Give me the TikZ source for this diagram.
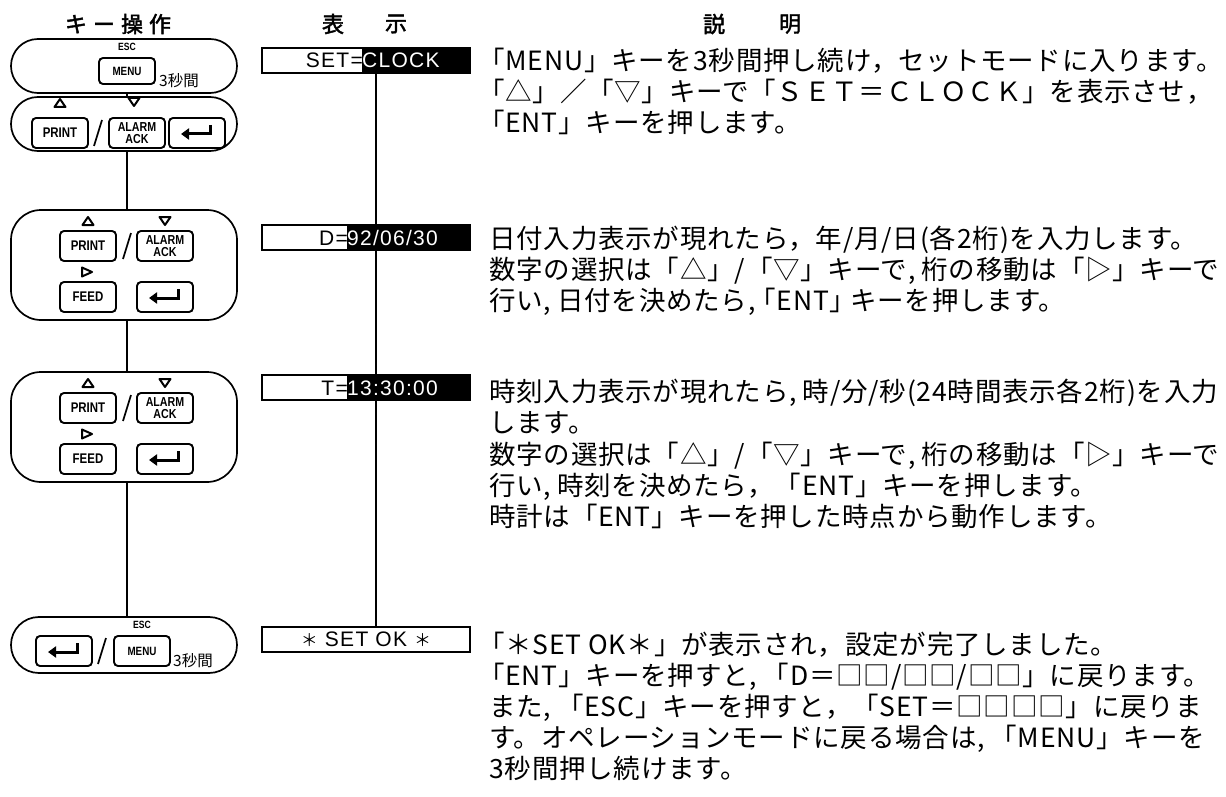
\documentclass[tikz,border=0pt]{standalone}
\usepackage{fontspec}
\setmainfont{Liberation Sans}
\newfontfamily\jp[LetterSpace=3]{Noto Sans CJK JP}
\newfontfamily\jps{Noto Sans CJK JP}
\newfontfamily\jpb[FakeBold=2]{Noto Sans CJK JP}
\newfontfamily\dispf[LetterSpace=6]{Liberation Sans}
\newfontfamily\keyf[FakeStretch=0.82]{Liberation Sans}
\usetikzlibrary{arrows.meta,calc}
\newcommand\tup[2]{\draw[tri] (#1-5.5,#2+4) -- (#1+5.5,#2+4) -- (#1,#2-4) -- cycle;}
\newcommand\tdn[2]{\draw[tri] (#1-5.5,#2-4) -- (#1+5.5,#2-4) -- (#1,#2+4) -- cycle;}
\newcommand\trt[2]{\draw[tri] (#1-4,#2-4.5) -- (#1-4,#2+4.5) -- (#1+6,#2) -- cycle;}
\newcommand\slsh[2]{\draw[slash] (#1-4,#2+13) -- (#1+4,#2-13);}
\newcommand\entarrow[1]{\draw[ent] ([xshift=13pt,yshift=8pt]#1.center) |- ([xshift=-16pt,yshift=-1pt]#1.center);}
\newcommand\hc{,\hspace{6pt}}
\tikzset{
 oval/.style={draw, line width=1.7pt, minimum width=226pt, inner sep=0pt},
 key/.style={draw, line width=1.9pt, rounded corners=4pt, minimum width=56pt, minimum height=30pt, inner sep=0pt, align=center, font=\keyf\bfseries\fontsize{14}{12}\selectfont},
 conn/.style={line width=1.5pt},
 disp/.style={draw, line width=1.3pt, minimum width=208pt, minimum height=25pt, inner sep=0pt, fill=white},
 dtext/.style={inner sep=0pt, font=\dispf\fontsize{21}{21}\selectfont},
 jtext/.style={inner sep=0pt, anchor=base west, font=\jp\fontsize{26.5}{26.5}\selectfont},
 head/.style={inner sep=0pt, font=\jpb\fontsize{22}{22}\selectfont},
 tri/.style={line width=2pt, line join=round},
 slash/.style={line width=1.7pt},
 ent/.style={line width=3pt, -{Triangle[length=8pt,width=11pt]}},
 small/.style={inner sep=0pt, font=\keyf\bfseries\fontsize{10.5}{10.5}\selectfont},
 secs/.style={inner sep=0pt, anchor=base west, font=\jps\fontsize{15.5}{15.5}\selectfont},
 twoline/.style={font=\keyf\bfseries\fontsize{13}{11.5}\selectfont},
 menukey/.style={font=\keyf\bfseries\fontsize{12}{12}\selectfont},
}
\begin{document}
\begin{tikzpicture}[x=1pt,y=-1pt]
\useasboundingbox[fill=white] (0,0) rectangle (1226,797);
% headers
\node[head] (hk) at (118,24) {キ\hspace{6pt}ー\hspace{6pt}操\hspace{6pt}作};
\node[head] (hh1) at (333,24) {表};
\node[head] (hh2) at (396,24) {示};
\node[head] (hs1) at (714,24) {説};
\node[head] (hs2) at (790,24) {明};
% ---- left column ----
\coordinate (lx) at (127,0);
\node[oval, minimum height=54pt, rounded corners=26.9pt] (o1) at (124,66) {};
\node[small] (esc1) at (127,47) {ESC};
\node[key, menukey, minimum height=26pt] (m1) at (127,71) {MENU};
\node[secs] (s1) at (159,87) {3秒間};

\node[oval, minimum height=54pt, rounded corners=26.9pt] (o2) at (124,124) {};
\tup{60}{103}
\tdn{134}{102}
\node[key] (p2) at (60,133) {PRINT};
\slsh{98}{133}
\node[key, twoline] (a2) at (137,133) {ALARM\\ACK};
\node[key] (e2) at (197,133) {};
\entarrow{e2}

\node[oval, minimum height=110pt, rounded corners=30pt] (o3) at (124,265) {};
\tup{88}{221}
\tdn{165}{221}
\node[key] (p3) at (88,246) {PRINT};
\slsh{127}{246}
\node[key, twoline] (a3) at (165,246) {ALARM\\ACK};
\trt{86}{272}
\node[key] (f3) at (88,297) {FEED};
\node[key] (e3) at (165,297) {};
\entarrow{e3}

\node[oval, minimum height=110pt, rounded corners=30pt] (o4) at (124,427) {};
\tup{88}{383}
\tdn{165}{383}
\node[key] (p4) at (88,408) {PRINT};
\slsh{127}{408}
\node[key, twoline] (a4) at (165,408) {ALARM\\ACK};
\trt{86}{434}
\node[key] (f4) at (88,459) {FEED};
\node[key] (e4) at (165,459) {};
\entarrow{e4}

\node[oval, minimum height=56pt, rounded corners=27.9pt] (o5) at (124,645) {};
\node[small] (esc5) at (142,625) {ESC};
\node[key] (e5) at (64,651) {};
\entarrow{e5}
\slsh{102}{651}
\node[key, menukey] (m5) at (142,651) {MENU};
\node[secs] (s5) at (173,666) {3秒間};

\draw[conn] (o1.south -| lx) -- (o2.north -| lx);
\draw[conn] (o2.south -| lx) -- (o3.north -| lx);
\draw[conn] (o3.south -| lx) -- (o4.north -| lx);
\draw[conn] (o4.south -| lx) -- (o5.north -| lx);

% ---- display column ----
\coordinate (dx) at (376,0);
\coordinate (k1) at (362,0);
\coordinate (k2) at (347,0);
\node[disp] (d1) at (366,60.5) {};
\node[disp] (d2) at (366,237.5) {};
\node[disp] (d3) at (366,387.5) {};
\node[disp] (d4) at (366,639.5) {};
\draw[conn,line width=1.2pt] (d1.south -| dx) -- (d2.north -| dx);
\draw[conn,line width=1.2pt] (d2.south -| dx) -- (d3.north -| dx);
\draw[conn,line width=1.2pt] (d3.south -| dx) -- (d4.north -| dx);
\fill[black] (d1.north west -| k1) rectangle (d1.south east);
\fill[black] (d2.north west -| k2) rectangle (d2.south east);
\fill[black] (d3.north west -| k2) rectangle (d3.south east);
\node[dtext, anchor=base east] (t1a) at (363,68) {SET=};
\node[dtext, anchor=base west, text=white] (t1b) at (362,68) {CLOCK};
\node[dtext, anchor=base east] (t2a) at (348,245) {D=};
\node[dtext, anchor=base west, text=white] (t2b) at (347,245) {92/06/30};
\node[dtext, anchor=base east] (t3a) at (348,395) {T=};
\node[dtext, anchor=base west, text=white] (t3b) at (347,395) {13:30:00};
\node[dtext] (t4) at (d4.center) {{\jps\fontsize{17}{17}\selectfont ＊} SET OK {\jps\fontsize{17}{17}\selectfont ＊}};

% ---- explanation ----
\node[jtext] (b1a) at (478,71) {「MENU」キーを3秒間押し続け，セットモードに入ります。};
\node[jtext] (b1b) at (478,102) {「△」／「▽」キーで「ＳＥＴ＝ＣＬＯＣＫ」を表示させ，};
\node[jtext] (b1c) at (478,132) {「ENT」キーを押します。};

\node[jtext] (b2a) at (489,248) {日付入力表示が現れたら，年/月/日(各2桁)を入力します。};
\node[jtext] (b2b) at (489,279) {数字の選択は「△」/「▽」キーで\hc 桁の移動は「▷」キーで};
\node[jtext] (b2c) at (489,310) {行い\hc 日付を決めたら,\hspace{-6pt}「ENT」\hspace{-6pt}キーを押します。};

\node[jtext] (b3a) at (489,401) {時刻入力表示が現れたら\hc 時/分/秒(24時間表示各2桁)を入力};
\node[jtext] (b3b) at (489,432) {します。};
\node[jtext] (b3c) at (489,464) {数字の選択は「△」/「▽」キーで\hc 桁の移動は「▷」キーで};
\node[jtext] (b3d) at (489,495) {行い\hc 時刻を決めたら，「ENT」キーを押します。};
\node[jtext] (b3e) at (489,526) {時計は「ENT」キーを押した時点から動作します。};

\node[jtext] (b4a) at (478,654) {「＊SET OK＊」が表示され，設定が完了しました。};
\node[jtext] (b4b) at (478,685) {「ENT」キーを押すと\hc 「D＝□□/□□/□□」に戻ります。};
\node[jtext] (b4c) at (489,716) {また\hc 「ESC」キーを押すと，「SET＝□□□□」に戻りま};
\node[jtext] (b4d) at (489,747) {す。オペレーションモードに戻る場合は\hc 「MENU」キーを};
\node[jtext] (b4e) at (489,778) {3秒間押し続けます。};
\end{tikzpicture}
\end{document}
